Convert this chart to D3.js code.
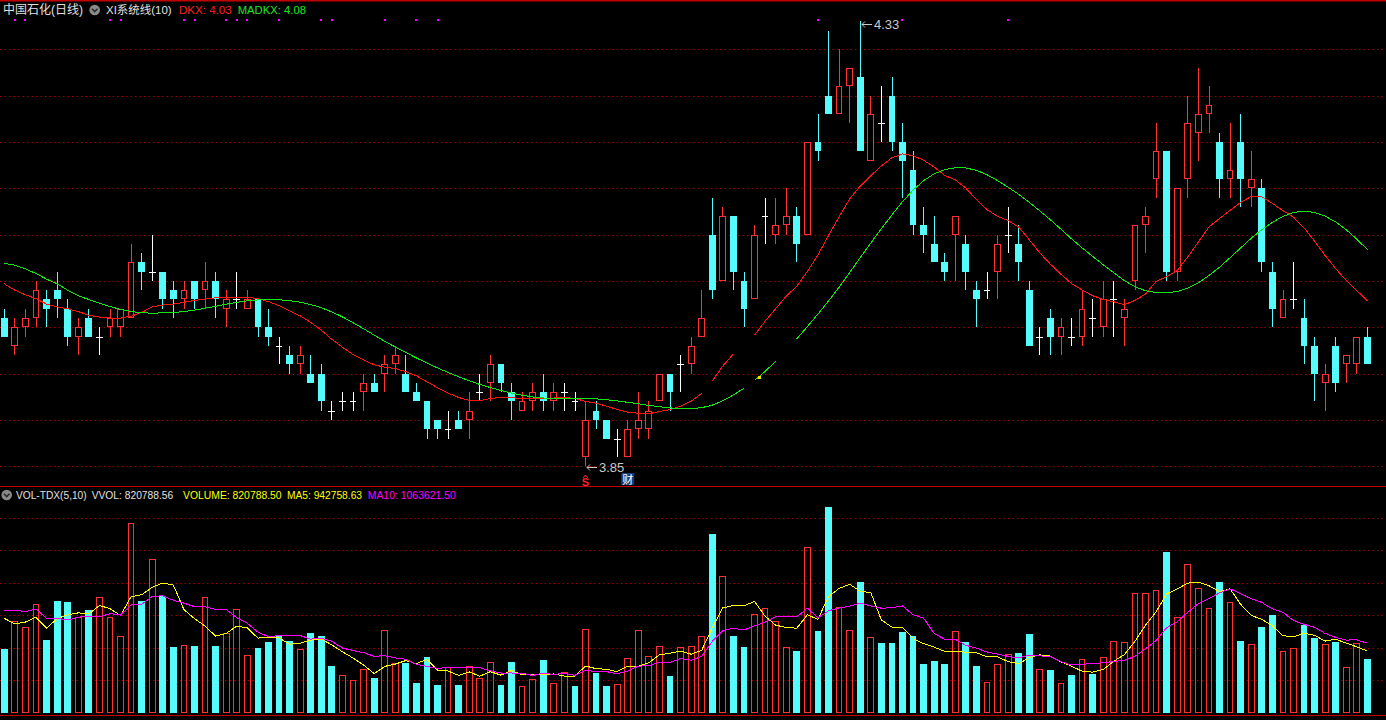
<!DOCTYPE html>
<html><head><meta charset="utf-8">
<script src="https://cdn.jsdelivr.net/npm/d3@7"></script>
<style>html,body{margin:0;padding:0;background:#000;overflow:hidden}svg{display:block}</style>
</head><body><svg id="c" width="1386" height="720"></svg>
<script>
const open=[4.01,3.98,4.00,4.01,4.03,4.04,4.02,3.99,4.01,3.99, 4.00,4.00,4.01,4.07,4.06,4.06,4.04,4.03,4.05,4.04, 4.05,4.02,4.03,4.02,4.03,4.00,3.98,3.97,3.96,3.95, 3.95,3.91,3.92,3.92,3.93,3.94,3.95,3.96,3.95,3.93, 3.92,3.90,3.89,3.90,3.90,3.93,3.94,3.96,3.93,3.91, 3.92,3.93,3.92,3.93,3.92,3.86,3.91,3.90,3.88,3.86, 3.89,3.89,3.92,3.95,3.96,3.96,3.99,4.10,4.05,4.12, 4.05,4.03,4.12,4.10,4.11,4.12,4.10,4.20,4.25,4.23, 4.26,4.27,4.18,4.22,4.25,4.20,4.17,4.11,4.09,4.07, 4.10,4.09,4.04,4.04,4.06,4.10,4.09,4.04,3.99,4.01, 3.99,3.99,3.99,4.01,4.00,4.03,4.01,4.05,4.11,4.16, 4.19,4.06,4.16,4.21,4.23,4.20,4.16,4.20,4.15,4.15, 4.06,4.01,4.03,4.01,3.98,3.94,3.98,3.96,3.96,3.99];
const high=[4.02,4.01,4.02,4.05,4.04,4.06,4.03,4.01,4.02,4.00, 4.02,4.02,4.09,4.08,4.10,4.06,4.05,4.05,4.05,4.07, 4.06,4.04,4.06,4.04,4.03,4.02,3.99,3.98,3.98,3.97, 3.96,3.92,3.93,3.93,3.95,3.95,3.97,3.98,3.97,3.94, 3.92,3.90,3.91,3.91,3.93,3.95,3.97,3.96,3.94,3.93, 3.94,3.95,3.94,3.94,3.93,3.92,3.92,3.90,3.89,3.90, 3.93,3.92,3.95,3.95,3.97,3.99,4.04,4.14,4.13,4.12, 4.06,4.11,4.14,4.14,4.15,4.13,4.20,4.23,4.32,4.30, 4.28,4.33,4.25,4.26,4.27,4.22,4.19,4.13,4.12,4.08, 4.12,4.10,4.05,4.06,4.10,4.13,4.11,4.05,4.00,4.02, 4.01,4.01,4.04,4.03,4.05,4.05,4.03,4.11,4.13,4.22, 4.19,4.15,4.25,4.28,4.26,4.21,4.22,4.23,4.19,4.16, 4.07,4.04,4.07,4.03,3.99,3.96,3.99,3.97,3.99,4.00];
const low=[3.99,3.97,3.99,4.00,4.00,4.01,3.98,3.97,3.99,3.97, 3.99,3.99,4.01,4.04,4.05,4.02,4.01,4.02,4.02,4.02, 4.01,4.00,4.02,4.02,3.99,3.98,3.96,3.95,3.95,3.94, 3.91,3.90,3.91,3.91,3.91,3.93,3.93,3.95,3.93,3.92, 3.88,3.88,3.88,3.89,3.88,3.92,3.92,3.93,3.90,3.91, 3.91,3.91,3.91,3.91,3.91,3.85,3.89,3.88,3.86,3.86, 3.88,3.88,3.92,3.91,3.93,3.95,3.99,4.03,4.05,4.04, 4.00,4.03,4.09,4.09,4.10,4.07,4.10,4.18,4.23,4.23, 4.22,4.19,4.18,4.20,4.19,4.14,4.10,4.08,4.07,4.05, 4.05,4.04,4.00,4.03,4.03,4.08,4.05,3.98,3.97,3.97, 3.97,3.98,3.98,3.99,3.99,3.99,3.98,4.04,4.08,4.14, 4.05,4.05,4.14,4.18,4.21,4.14,4.14,4.13,4.13,4.06, 4.00,4.01,4.02,3.96,3.92,3.91,3.93,3.94,3.95,3.96];
const close=[3.99,4.00,4.01,4.04,4.02,4.03,3.99,4.00,3.99,3.99, 4.01,4.02,4.07,4.06,4.06,4.03,4.03,4.04,4.03,4.05, 4.03,4.03,4.03,4.03,4.00,3.99,3.98,3.96,3.97,3.94, 3.92,3.91,3.92,3.92,3.94,3.93,3.96,3.97,3.93,3.92, 3.89,3.89,3.89,3.89,3.91,3.93,3.96,3.94,3.92,3.92, 3.93,3.92,3.93,3.93,3.92,3.90,3.90,3.88,3.88,3.89, 3.90,3.91,3.95,3.93,3.96,3.98,4.01,4.04,4.12,4.06, 4.02,4.10,4.12,4.11,4.12,4.09,4.20,4.19,4.23,4.26, 4.28,4.19,4.23,4.22,4.20,4.18,4.11,4.10,4.07,4.06, 4.12,4.06,4.03,4.04,4.09,4.10,4.07,3.98,3.99,3.99, 4.00,3.99,4.02,4.01,4.03,4.03,4.02,4.11,4.12,4.19, 4.06,4.15,4.22,4.23,4.24,4.16,4.17,4.16,4.16,4.07, 4.02,4.03,4.03,3.98,3.95,3.95,3.94,3.97,3.99,3.96];
// volume in millions
const volume=[0.98,1.41,1.32,1.67,1.12,1.72,1.70,1.47,1.58,1.78, 1.47,1.18,2.92,1.72,2.36,1.80,1.01,1.04,1.03,1.78, 1.03,1.22,1.60,0.89,1.00,1.09,1.18,1.10,0.98,1.23, 1.18,0.72,0.58,0.50,0.68,0.53,1.27,0.76,0.77,0.45, 0.86,0.43,0.70,0.43,0.72,0.53,0.78,0.43,0.78,0.41, 0.52,0.81,0.46,0.62,0.41,1.29,0.61,0.41,0.44,0.84, 1.27,0.88,1.02,0.56,1.01,1.03,1.18,2.75,2.10,1.18, 1.01,1.52,1.61,1.41,1.01,0.95,2.55,1.26,3.17,1.63, 1.27,2.01,1.16,1.07,1.07,1.24,1.18,0.75,0.80,0.75, 1.26,1.09,0.72,0.47,0.75,0.90,0.92,1.21,0.67,0.66, 0.46,0.58,0.82,0.60,0.86,1.10,1.09,1.84,1.84,1.89, 2.48,1.47,2.29,1.92,1.61,2.01,1.70,1.10,1.06,1.32, 1.50,0.95,1.00,1.35,1.15,1.06,1.09,0.70,1.07,0.8208];
// indicator values read from picture where history is not visible
const dkxHead=[4.047,4.040,4.035,4.031,4.025,4.022,4.020,4.017,4.013,4.011,4.010,4.010,4.012,4.016,4.022,4.024,4.025,4.027,4.029];
const madkxHead=[4.069,4.067,4.063,4.058,4.052,4.047,4.040,4.034,4.030];
const ma5Head=[1.452,1.365,1.395,1.468];
const ma10Head=[1.565,1.58,1.554,1.595,1.452,1.452,1.426,1.468,1.488];
const priceTicks=[3.85,3.90,3.95,4.00,4.05,4.10,4.15,4.20,4.25,4.30];
const volTicks=[0.5,1.0,1.5,2.0,2.5,3.0];
const dkxGaps=[66,69,70];
const madkxGaps=[70,73,74];
const topDots=[1,2,10,11,17,18,21,22,23,26,30,31,36,39,41,77,85,95];
const sIndex=55, caiIndex=59, yellowMark=71;
// header texts: [text, colour, left, width]
const headMain=[['中国石化(日线)','#e0e0e0',3,80],['XI系统线(10)','#e0e0e0',106,65.7],['DKX: 4.03','#ff2020',179,52.7],['MADKX: 4.08','#20e620',237.7,68.3]];
const headVol=[['VOL-TDX(5,10)','#e0e0e0',16,70.7],['VVOL: 820788.56','#e0e0e0',91.7,81.6],['VOLUME: 820788.50','#ffff00',183,98.7],['MA5: 942758.63','#ffff00',287,75],['MA10: 1063621.50','#ff00ff',367.7,88.3]];

const N=close.length;
const svg=d3.select('#c');
const FONT="'Liberation Sans','Noto Sans CJK SC',Arial,sans-serif";
const RED='#ff3232',CYAN='#54fcfc',WHITE='#ffffff',GRID='#a00000';
const x=d3.scaleBand().domain(d3.range(N)).range([-0.98,1372.7]).paddingInner(0.36).paddingOuter(0.18);
const bw=x.bandwidth();
const L=i=>Math.round(x(i)), R=i=>Math.round(x(i)+bw);
const C=i=>Math.floor((L(i)+R(i))/2)+0.5;
const cx=i=>x(i)+bw/2;
const y=d3.scaleLinear().domain([3.85,4.30]).range([466.3,49.3]);
const yv=d3.scaleLinear().domain([0,3]).range([712.7,517.7]);

svg.append('rect').attr('width',1386).attr('height',720).attr('fill','#000');

// grids
svg.append('g').selectAll('line').data(priceTicks).join('line')
  .attr('x1',0).attr('x2',1386).attr('y1',d=>Math.round(y(d))+0.5).attr('y2',d=>Math.round(y(d))+0.5)
  .attr('stroke',GRID).attr('stroke-dasharray','1.5,3');
svg.append('g').selectAll('line').data(volTicks).join('line')
  .attr('x1',0).attr('x2',1386).attr('y1',d=>Math.round(yv(d))+0.5).attr('y2',d=>Math.round(yv(d))+0.5)
  .attr('stroke',GRID).attr('stroke-dasharray','1.5,3');

// separators
[0.5,486.5,715.5].forEach(v=>svg.append('line').attr('x1',0).attr('x2',1386).attr('y1',v).attr('y2',v).attr('stroke','#c00000').attr('stroke-width',v<1?2:1.2));

// indicators
const mid=d3.range(N).map(i=>(3*close[i]+low[i]+open[i]+high[i])/6);
const dkx=d3.range(N).map(i=>{
  if(i<19) return dkxHead[i];
  let s=0; for(let k=0;k<20;k++) s+=(20-k)*mid[i-k]; return s/210;});
const madkx=d3.range(N).map(i=> i<9?madkxHead[i]:d3.mean(dkx.slice(i-9,i+1)));
const ma5=d3.range(N).map(i=> i<4?ma5Head[i]:d3.mean(volume.slice(i-4,i+1)));
const ma10=d3.range(N).map(i=> i<9?ma10Head[i]:d3.mean(volume.slice(i-9,i+1)));

function drawLine(vals,ys,color,gaps){
  const runs=[];let cur=[0];
  for(let i=1;i<N;i++){ if(gaps.includes(i-1)){runs.push(cur);cur=[i];} else cur.push(i);}
  runs.push(cur);
  const ln=d3.line().x(i=>cx(i)).y(i=>ys(vals[i]));
  runs.filter(r=>r.length>1).forEach(r=>svg.append('path').attr('d',ln(r)).attr('fill','none')
    .attr('stroke',color).attr('stroke-width',1).attr('shape-rendering','crispEdges'));
}

// candles
const g=svg.append('g');
d3.range(N).forEach(i=>{
  const o=open[i],c=close[i],h=high[i],l=low[i];
  const col=c>o?RED:(c<o?CYAN:WHITE);
  const top=Math.round(y(Math.max(o,c))), bot=Math.round(y(Math.min(o,c)));
  const yh=Math.round(y(h)), yl=Math.round(y(l));
  if(c>o){
    if(yh<top) g.append('line').attr('x1',C(i)).attr('x2',C(i)).attr('y1',yh).attr('y2',top).attr('stroke',col);
    if(yl>bot) g.append('line').attr('x1',C(i)).attr('x2',C(i)).attr('y1',bot).attr('y2',yl).attr('stroke',col);
    g.append('rect').attr('x',L(i)+0.5).attr('y',top+0.5).attr('width',R(i)-L(i)-1).attr('height',Math.max(1,bot-top-1))
      .attr('fill','#000').attr('stroke',col);
  } else if(c<o){
    g.append('line').attr('x1',C(i)).attr('x2',C(i)).attr('y1',yh).attr('y2',yl).attr('stroke',col);
    g.append('rect').attr('x',L(i)).attr('y',top).attr('width',R(i)-L(i)).attr('height',Math.max(1,bot-top)).attr('fill',col);
  } else {
    g.append('line').attr('x1',C(i)).attr('x2',C(i)).attr('y1',yh).attr('y2',yl).attr('stroke',col);
    g.append('line').attr('x1',L(i)).attr('x2',R(i)).attr('y1',top+0.5).attr('y2',top+0.5).attr('stroke',col);
  }
});

drawLine(dkx,y,'#ff1414',dkxGaps);
drawLine(madkx,y,'#14e614',madkxGaps);
svg.append('rect').attr('x',Math.round(cx(yellowMark))+3).attr('y',Math.round(y(madkx[yellowMark]))-4).attr('width',3).attr('height',3).attr('fill','#e6e600');

// volume bars
const vg=svg.append('g');
const base=713;
d3.range(N).forEach(i=>{
  const up=close[i]>open[i]||(close[i]===open[i]&&(i===0||close[i]>=close[i-1]));
  const top=Math.round(yv(volume[i]));
  if(up) vg.append('rect').attr('x',L(i)+0.5).attr('y',top+0.5).attr('width',R(i)-L(i)-1).attr('height',base-top-1)
    .attr('fill','none').attr('stroke',RED);
  else vg.append('rect').attr('x',L(i)).attr('y',top).attr('width',R(i)-L(i)).attr('height',base-top).attr('fill',CYAN);
});
drawLine(ma5,yv,'#ffff00',[]);
drawLine(ma10,yv,'#ff00ff',[]);

// top dots
svg.append('g').selectAll('rect').data(topDots).join('rect')
  .attr('x',i=>Math.round(cx(i))-1).attr('y',19).attr('width',2).attr('height',2).attr('fill','#ff00ff');

// high / low labels
const iH=d3.maxIndex(high), iL=d3.minIndex(low);
function mark(i,v,dy){
  const px=Math.round(cx(i))+1, py=Math.round(y(v))+dy;
  svg.append('path').attr('d',`M${px+1},${py+0.5}L${px+11},${py+0.5}M${px+1},${py+0.5}L${px+4},${py-2.5}M${px+1},${py+0.5}L${px+4},${py+3.5}`)
    .attr('stroke','#c8c8c8').attr('fill','none');
  svg.append('text').attr('x',px+13).attr('y',py+5).attr('fill','#c8c8c8').attr('font-size',13).attr('font-family',FONT).text(d3.format('.2f')(v));
}
mark(iH,high[iH],3);
mark(iL,low[iL],1);

// S and 财 markers
const sx=cx(sIndex);
svg.append('path').attr('d',`M${sx-2.5},${478}L${sx},${475}L${sx+2.5},${478}`).attr('stroke','#ff2020').attr('fill','none');
svg.append('text').attr('x',sx).attr('y',486).attr('text-anchor','middle').attr('fill','#ff2020').attr('font-size',11).attr('font-weight','bold').attr('font-family',FONT).text('S');
const cxx=cx(caiIndex);
svg.append('rect').attr('x',cxx-6.5).attr('y',473).attr('width',13).attr('height',12).attr('fill','#1a3c7a');
svg.append('text').attr('x',cxx).attr('y',483.5).attr('text-anchor','middle').attr('fill','#ffffff').attr('font-size',11).attr('font-family',FONT).text('财');

// header texts: font size chosen so the natural width matches the reference width
function txt(yp,d){
  const t=svg.append('text').attr('x',d[2]).attr('y',yp).attr('fill',d[1]).attr('font-size',12).attr('font-family',FONT).text(d[0]);
  const w=t.node().getComputedTextLength();
  const fs=Math.min(12,12*d[3]/w);
  t.attr('font-size',fs.toFixed(2));
}
function icon(xp,yp){
  svg.append('circle').attr('cx',xp).attr('cy',yp).attr('r',5.3).attr('fill','#8a8a8a');
  svg.append('path').attr('d',`M${xp-2.8},${yp-1.2}L${xp},${yp+1.6}L${xp+2.8},${yp-1.2}`).attr('stroke','#2a2a2a').attr('stroke-width',1.6).attr('fill','none');
}
headMain.forEach(d=>txt(14,d));
icon(94.7,10);
icon(6.7,495);
headVol.forEach(d=>txt(499,d));
</script></body></html>
